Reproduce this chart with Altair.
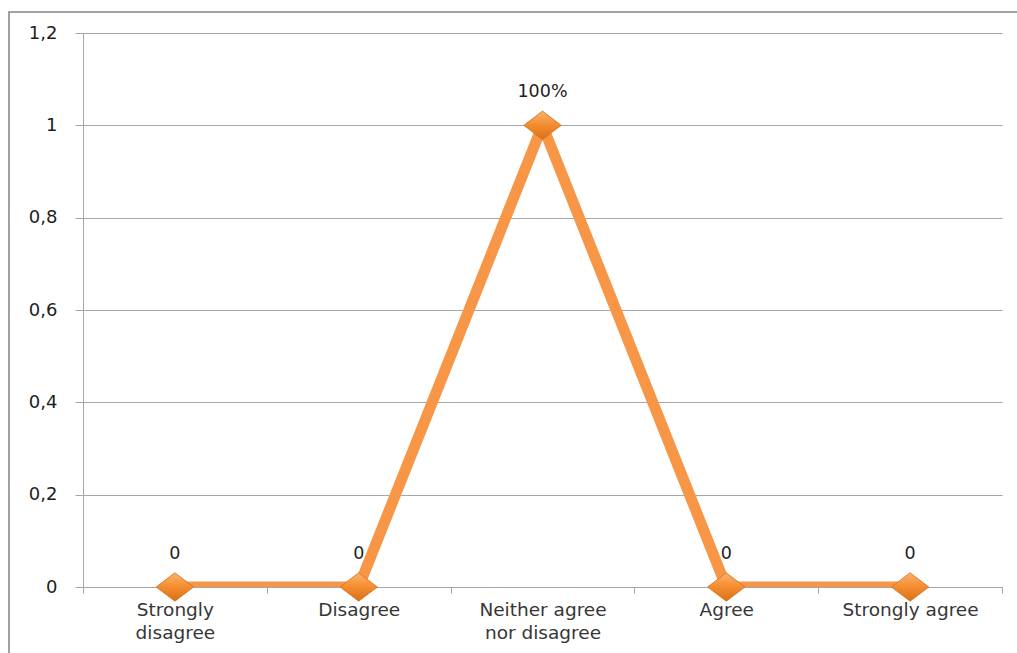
import altair as alt
import pandas as pd

# Survey response categories ("|" marks where the axis label wraps)
categories = [
    "Strongly|disagree",
    "Disagree",
    "Neither agree|nor disagree",
    "Agree",
    "Strongly agree",
]
values = [0, 0, 1, 0, 0]
point_labels = ["0", "0", "100%", "0", "0"]
y_ticks = [0, 0.2, 0.4, 0.6, 0.8, 1.0, 1.2]

df = pd.DataFrame({"cat": categories, "value": values, "label": point_labels})

ORANGE = "#F79646"
GRID = "#A6A6A6"
TEXT = "#363636"
FONT = "DejaVu Sans"

x_enc = alt.X(
    "cat:N",
    sort=categories,
    scale=alt.Scale(paddingInner=0, paddingOuter=0),
    axis=alt.Axis(
        title=None,
        labelExpr="split(datum.label, '|')",
        labelAngle=0,
        labelFont=FONT,
        labelFontSize=18.5,
        labelColor=TEXT,
        labelLineHeight=23,
        labelPadding=7,
        labelBaseline="top",
        tickBand="extent",
        tickSize=6,
        tickColor=GRID,
        domainColor=GRID,
        grid=False,
    ),
)
y_scale = alt.Scale(domain=[0, 1.2], nice=False, zero=True)
y_axis = alt.Axis(
    title=None,
    values=y_ticks,
    labelExpr="replace(format(datum.value, '.1~f'), '.', ',')",
    labelFont=FONT,
    labelFontSize=18,
    labelColor="#1E1E1E",
    labelPadding=18,
    tickSize=8,
    tickColor=GRID,
    domainColor=GRID,
    gridColor=GRID,
    gridWidth=1,
)

base = alt.Chart(df)

# Outer chart frame
frame = base.mark_rect(
    fill="transparent", stroke="#A0A0A0", strokeWidth=1.2, clip=False
).encode(
    x=alt.value(-74), x2=alt.value(1300), y=alt.value(-21), y2=alt.value(900)
)

line = base.mark_line(
    color=ORANGE, strokeWidth=11, clip=True, strokeJoin="miter"
).encode(x=x_enc, y=alt.Y("value:Q", scale=y_scale, axis=y_axis))

diamond = "M -1 0 L 0 -0.76 L 1 0 L 0 0.76 Z"
points = base.mark_point(
    shape=diamond,
    size=1400,
    filled=True,
    opacity=1,
    fill=alt.Gradient(
        gradient="linear",
        x1=0, y1=0, x2=0, y2=1,
        stops=[
            alt.GradientStop(color="#FBB36E", offset=0),
            alt.GradientStop(color="#F48C2E", offset=0.5),
            alt.GradientStop(color="#D9701A", offset=1),
        ],
    ),
    stroke="#D27020",
    strokeWidth=0.8,
).encode(x=x_enc, y=alt.Y("value:Q", scale=y_scale))

labels = base.mark_text(
    dy=-33, font=FONT, fontSize=17.5, color="#1E1E1E", baseline="middle"
).encode(x=x_enc, y=alt.Y("value:Q", scale=y_scale), text="label:N")

chart = (
    alt.layer(frame, line, points, labels)
    .properties(
        width=919,
        height=554,
        autosize=alt.AutoSizeParams(type="none"),
        padding={"left": 83, "top": 33, "right": 15, "bottom": 66},
        background="white",
    )
    .configure_view(stroke=None)
)

chart.save("out.html", embed_options={"renderer": "svg", "actions": False})
